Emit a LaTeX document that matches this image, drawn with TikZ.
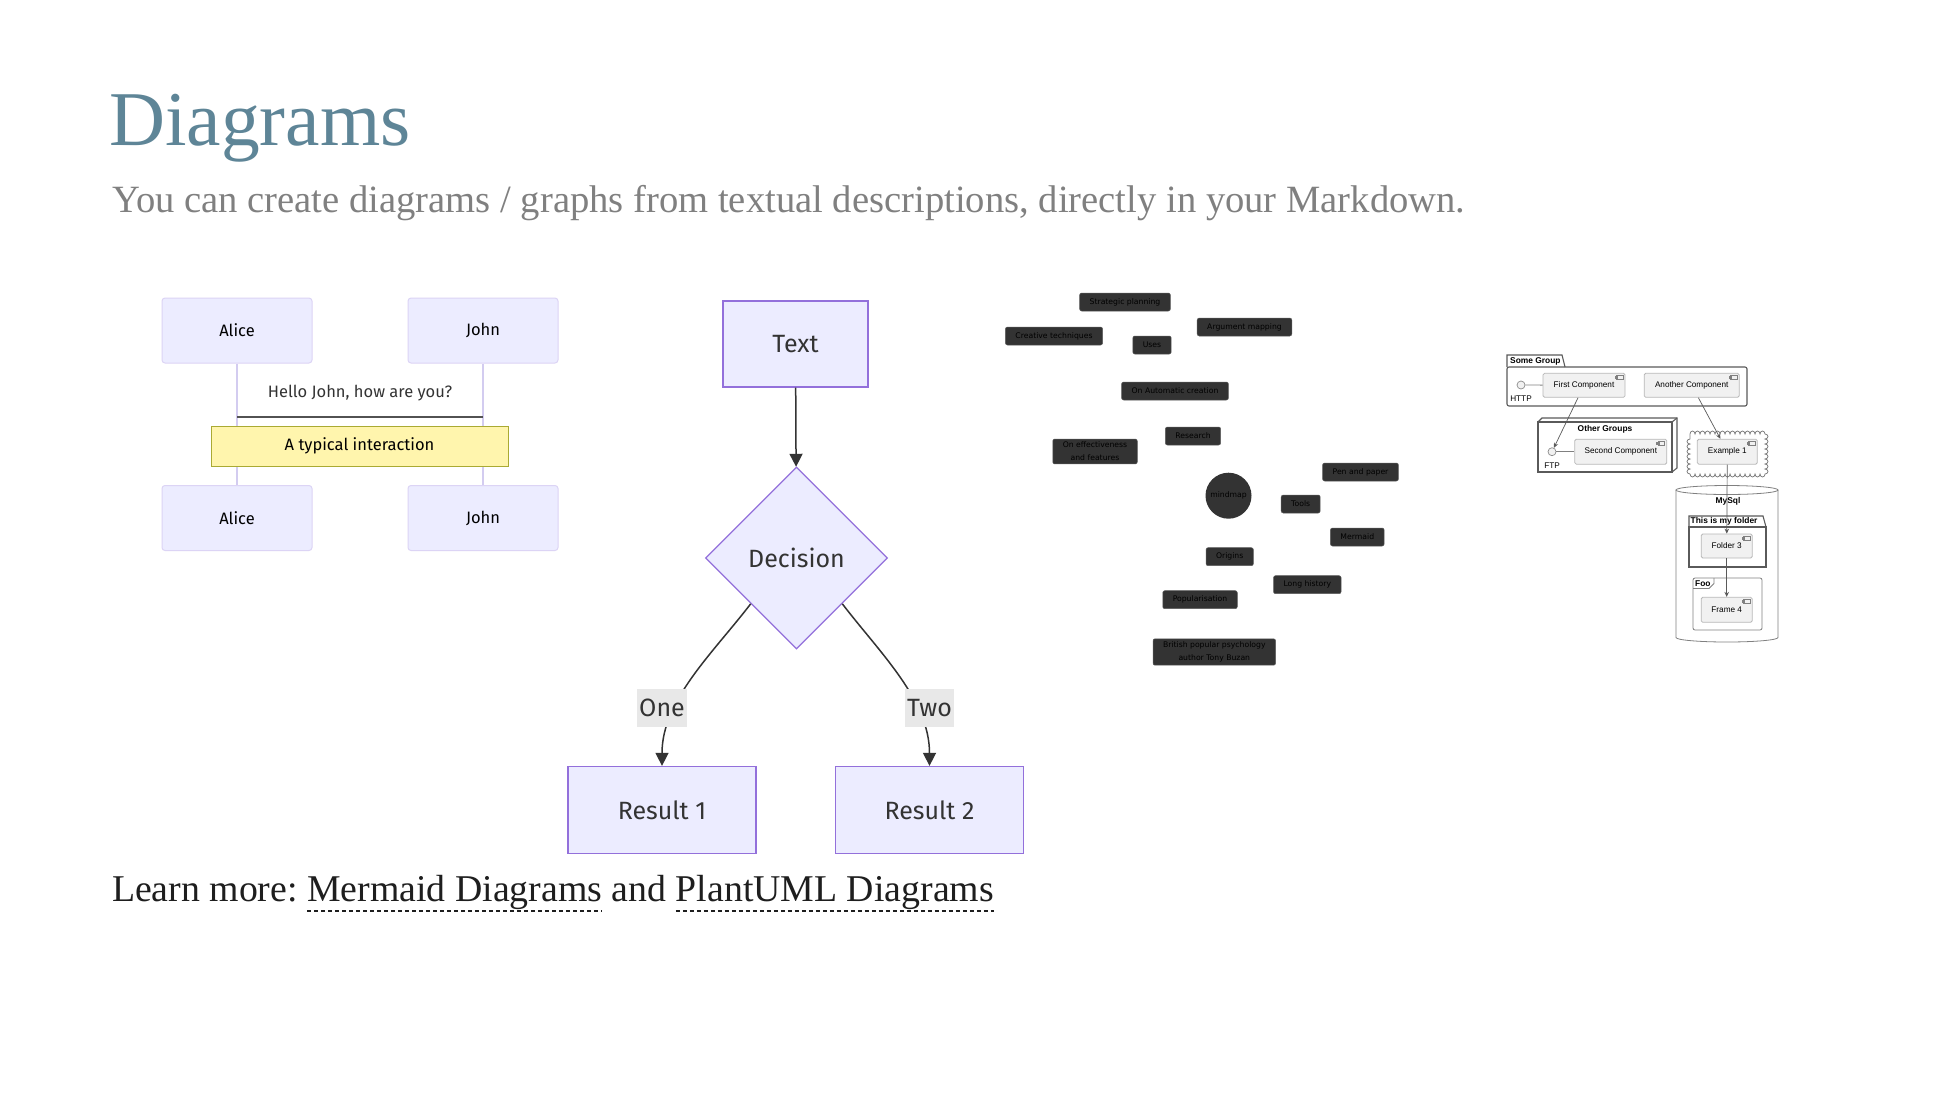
\documentclass[tikz,border=0pt]{standalone}
\usepackage{fontspec}
\setmainfont{Liberation Serif}
\newfontfamily\mermaidfont{Fira Sans}
\newfontfamily\mindfont{DejaVu Sans}
\newfontfamily\umlfont{Liberation Sans}
\usetikzlibrary{positioning, arrows.meta, shapes.geometric, decorations.pathmorphing}

\definecolor{titleblue}{HTML}{5E8597}
\definecolor{subgray}{HTML}{808080}
\definecolor{footblack}{HTML}{1E1E1E}
\definecolor{mmfill}{HTML}{ECECFF}
\definecolor{mmstroke}{HTML}{9370DB}
\definecolor{actorstroke}{HTML}{DCD4F5}
\definecolor{lifecolor}{HTML}{D3CCF0}
\definecolor{notefill}{HTML}{FFF5AD}
\definecolor{notestroke}{HTML}{AAAA33}
\definecolor{edgegray}{HTML}{333333}
\definecolor{labelgray}{HTML}{E8E8E8}
\definecolor{mindgray}{HTML}{333333}
\definecolor{umlfill}{HTML}{F1F1F1}
\definecolor{umlline}{HTML}{5A5A5A}

\tikzset{
  actor/.style={draw=actorstroke, fill=mmfill, rounded corners=3pt, line width=1pt,
    minimum width=150pt, minimum height=65pt, font=\mermaidfont\fontsize{16.5}{20}\selectfont},
  lifeline/.style={draw=lifecolor, line width=1.5pt},
  msgtext/.style={text=edgegray, inner sep=0pt, font=\mermaidfont\fontsize{16.5}{20}\selectfont},
  msgline/.style={draw=edgegray!85!white, line width=2pt},
  seqnote/.style={draw=notestroke, fill=notefill, line width=1pt, minimum width=297pt,
    minimum height=40pt, font=\mermaidfont\fontsize{16.5}{20}\selectfont},
  flownode/.style={draw=mmstroke, fill=mmfill, line width=1.3pt, text=edgegray,
    font=\mermaidfont\fontsize{25}{30}\selectfont},
  flowedge/.style={draw=edgegray, line width=1.5pt, -{Triangle[length=13pt, width=13pt]}},
  flowlabel/.style={fill=labelgray, inner xsep=2pt, inner ysep=0pt, minimum height=38pt,
    text=edgegray, font=\mermaidfont\fontsize{25}{30}\selectfont},
  mindbox/.style={fill=mindgray, draw=mindgray!80!white, line width=0.5pt, rounded corners=2pt,
    inner xsep=10pt, inner ysep=3pt, minimum height=18pt, align=center, text=black,
    font=\mindfont\fontsize{7.7}{13}\selectfont},
  mindroot/.style={circle, fill=mindgray, minimum size=46pt, inner sep=0pt, text=black,
    font=\mindfont\fontsize{7.7}{13}\selectfont},
  umlcomp/.style={draw=black!28, fill=umlfill, line width=0.8pt, rounded corners=1.5pt,
    minimum height=24pt, font=\umlfont\fontsize{8.2}{10}\selectfont},
  umliface/.style={circle, draw=black!45, fill=umlfill, line width=0.7pt, minimum size=8pt, inner sep=0pt},
  umlgroup/.style={draw=umlline, line width=1.1pt},
  umlthin/.style={draw=black!50, line width=0.8pt},
  umltitle/.style={inner sep=0pt, font=\umlfont\bfseries\fontsize{8.4}{10}\selectfont},
  umltext/.style={inner sep=0pt, font=\umlfont\fontsize{8.2}{10}\selectfont},
  umlarrow/.style={draw=umlline, line width=0.7pt, -{Stealth[length=5pt, width=4.5pt]}},
  umlicon/.style={draw=black!50, line width=0.5pt, fill=umlfill},
  footer/.style={inner sep=0pt, outer sep=0pt, text=footblack, font=\fontsize{37.8}{44}\selectfont},
  linkline/.style={draw=footblack, line width=1.5pt, dash pattern=on 4pt off 3pt}
}

\begin{document}
\begin{tikzpicture}[x=1pt, y=-1pt]
\fill[white] (0,0) rectangle (1960,1104);
\useasboundingbox (0,0) rectangle (1960,1104);

\node[anchor=base west, inner sep=0pt, text=titleblue, font=\fontsize{77.5}{80}\selectfont] (title) at (109,145)
  {Diagrams};
\node[anchor=base west, inner sep=0pt, text=subgray, font=\fontsize{38.6}{44}\selectfont] (subtitle) at (112,212)
  {You can create diagrams / graphs from textual descriptions, directly in your Markdown.};

\node[actor] (aliceTop) at (237,330.5) {Alice};
\node[actor] (johnTop) at (483,330.5) {John};
\node[actor] (aliceBot) at (237,518) {Alice};
\node[actor] (johnBot) at (483,518) {John};
\draw[lifeline] (aliceTop) -- (aliceBot);
\draw[lifeline] (johnTop) -- (johnBot);
\node[msgtext] (msg) at (360,393) {Hello John, how are you?};
\coordinate (msgy) at (0,417);
\draw[msgline] (aliceTop |- msgy) -- (johnTop |- msgy);
\node[seqnote] (note) at (359.5,446) {A typical interaction};

\node[flownode, minimum width=145pt, minimum height=86pt] (textbox) at (795.5,344) {Text};
\node[flownode, diamond, minimum width=182pt, minimum height=182pt, inner sep=0pt] (decision) at (796.5,558)
  {Decision};
\node[flownode, minimum width=188pt, minimum height=87pt] (result1) at (662,810) {Result 1};
\node[flownode, minimum width=188pt, minimum height=87pt] (result2) at (929.5,810) {Result 2};
\draw[flowedge] (textbox) -- (decision);
\draw[flowedge] (decision.south west) .. controls (713,653) and (662,700) .. (result1.north);
\draw[flowedge] (decision.south east) .. controls (880,653) and (929.5,700) .. (result2.north);
\node[flowlabel] (one) at (662,708) {One};
\node[flowlabel] (two) at (929.5,708) {Two};

\node[mindbox] (strategic) at (1125,302) {Strategic planning};
\node[mindbox] (creative) at (1054,336) {Creative techniques};
\node[mindbox] (argument) at (1244.5,327) {Argument mapping};
\node[mindbox] (uses) at (1152,345) {Uses};
\node[mindbox] (automatic) at (1175,391) {On Automatic creation};
\node[mindbox] (research) at (1193,436) {Research};
\node[mindbox] (effect) at (1095,451.5) {On effectiveness\\and features};
\node[mindbox] (pen) at (1360.5,472) {Pen and paper};
\node[mindroot] (root) at (1228.5,495.7) {mindmap};
\node[mindbox] (tools) at (1300.7,504) {Tools};
\node[mindbox] (mermaid) at (1357.3,537) {Mermaid};
\node[mindbox] (origins) at (1229.7,556.7) {Origins};
\node[mindbox] (longhist) at (1307.3,584.7) {Long history};
\node[mindbox] (popular) at (1200,599.7) {Popularisation};
\node[mindbox] (buzan) at (1214.3,652) {British popular psychology\\author Tony Buzan};

\draw[umlgroup, rounded corners=2pt] (1507,367) rectangle (1747,406);
\draw[umlgroup] (1507,367) -- (1507,355) -- (1562,355) -- (1565,367);
\node[umltitle, anchor=west] (somegroup) at (1510,361) {Some Group};
\node[umliface] (http) at (1521,385) {};
\node[umltext] (httplabel) at (1521,399) {HTTP};
\node[umlcomp, minimum width=82pt] (first) at (1584,385.3) {First Component};
\node[umlcomp, minimum width=95pt] (another) at (1691.7,385.3) {Another Component};
\draw[umlthin] (http) -- (first);

\draw[umlgroup] (1538,422) rectangle (1672,472);
\draw[umlgroup] (1538,422) -- (1542,418) -- (1677,418) -- (1677,468) -- (1672,472);
\draw[umlgroup] (1672,422) -- (1677,418);
\node[umltitle] (othergroups) at (1605,429.3) {Other Groups};
\node[umliface] (ftp) at (1552,451.7) {};
\node[umltext] (ftplabel) at (1552,466) {FTP};
\node[umlcomp, minimum width=92pt, minimum height=25pt] (second) at (1620.8,451.7) {Second Component};
\draw[umlthin] (ftp) -- (second);

\draw[umlthin, decorate, decoration={bumps, segment length=10pt, amplitude=3pt}]
  (1690,434) -- (1765,434) -- (1765,474) -- (1690,474) -- cycle;
\node[umlcomp, minimum width=60pt, minimum height=25pt] (ex1) at (1727.3,451.7) {Example 1};

\draw[umlthin] (1676,490) -- (1676,637.5) arc[start angle=180, end angle=0, x radius=51, y radius=4.5] -- (1778,490);
\draw[umlthin] (1727,490) ellipse[x radius=51, y radius=4.5];
\node[umltitle] (mysql) at (1728,501) {MySql};

\draw[umlgroup] (1689,527) rectangle (1766,567);
\draw[umlgroup] (1689,527) -- (1689,516) -- (1763,516) -- (1766,527);
\node[umltitle, anchor=west] (myfolder) at (1690.5,521.5) {This is my folder};
\node[umlcomp, minimum width=51pt] (folder3) at (1726.7,546) {Folder 3};

\draw[umlthin, rounded corners=2pt] (1693,578) rectangle (1762,630);
\draw[umlthin] (1693,588.5) -- (1709,588.5) -- (1714,583.5) -- (1714,578);
\node[umltitle, anchor=west] (foo) at (1695,583.5) {Foo};
\node[umlcomp, minimum width=51pt, minimum height=25pt] (frame4) at (1726.7,609.8) {Frame 4};

\foreach \c in {first, another, second, ex1, folder3, frame4} {
  \draw[umlicon] ([shift={(-9,2.5)}]\c.north east) rectangle ([shift={(-2.5,6.5)}]\c.north east);
  \draw[umlicon] ([shift={(-10.5,3.3)}]\c.north east) rectangle ([shift={(-8,4.3)}]\c.north east);
  \draw[umlicon] ([shift={(-10.5,4.8)}]\c.north east) rectangle ([shift={(-8,5.8)}]\c.north east);
}

\draw[umlarrow] (first) -- (ftp);
\draw[umlarrow] (another) -- (ex1);
\draw[umlarrow] (ex1) -- (folder3);
\draw[umlarrow] (folder3) -- (frame4);

\node[footer, anchor=base west] (learn) at (112,901) {Learn more:};
\node[footer, base right=9.5pt of learn] (mermaidlink) {Mermaid Diagrams};
\node[footer, base right=9.5pt of mermaidlink] (andword) {and};
\node[footer, base right=9.5pt of andword] (plantlink) {PlantUML Diagrams};
\draw[linkline] ([yshift=-10pt]mermaidlink.base west) -- ([yshift=-10pt]mermaidlink.base east);
\draw[linkline] ([yshift=-10pt]plantlink.base west) -- ([yshift=-10pt]plantlink.base east);

\end{tikzpicture}
\end{document}
